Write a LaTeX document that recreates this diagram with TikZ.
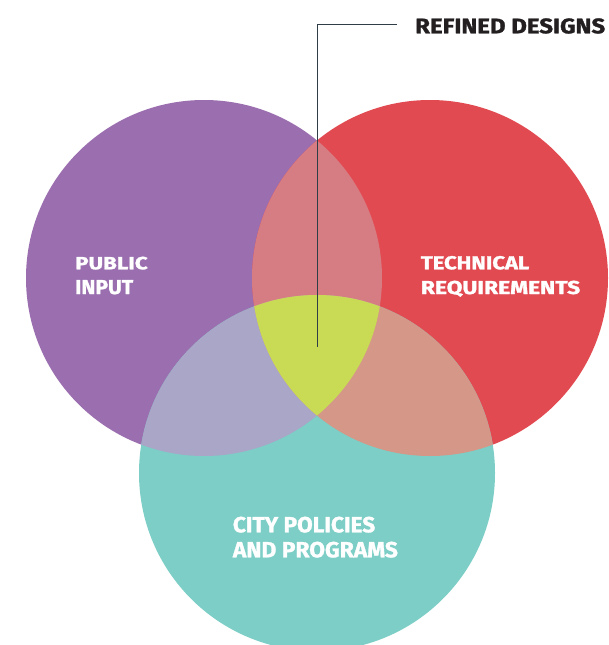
\documentclass[tikz,border=0pt]{standalone}
\usepackage{fontspec}
\setmainfont{Fira Sans}[BoldFeatures={FakeBold=1.3}]
\usepackage{graphicx}
\definecolor{cpurple}{HTML}{9A6EAF}
\definecolor{cred}{HTML}{E24A52}
\definecolor{cteal}{HTML}{7CCEC6}
\definecolor{cpink}{HTML}{D67D84}
\definecolor{clav}{HTML}{A9A6C7}
\definecolor{csalmon}{HTML}{D49788}
\definecolor{cyellow}{HTML}{C9DB55}
\definecolor{cline}{HTML}{2F3E46}
\definecolor{ctext}{HTML}{231F20}
\tikzset{
  setcircle/.style={circle,inner sep=0pt,minimum size=356pt,fill=#1},
  lbl/.style={anchor=base west,inner sep=0pt,text=white,font=\bfseries},
  reflbl/.style={anchor=base west,inner sep=0pt,text=ctext,font=\bfseries},
  leader/.style={draw=cline,line width=0.9pt}
}
\newcommand{\fitline}[3]{\resizebox{#1pt}{#2pt}{#3}}
\begin{document}
\begin{tikzpicture}[x=1pt,y=-1pt]
\useasboundingbox (0,0) rectangle (608,645);
\begin{scope}
\clip (0,0) rectangle (608,645);
\node[setcircle=cpurple] (L) at (204,278) {};
\node[setcircle=cred] (R) at (430,278) {};
\node[setcircle=cteal] (B) at (317,473) {};
\begin{scope}
  \clip (204,278) circle[radius=178pt];
  \fill[cpink] (430,278) circle[radius=178pt];
  \fill[clav] (317,473) circle[radius=178pt];
\end{scope}
\begin{scope}
  \clip (430,278) circle[radius=178pt];
  \fill[csalmon] (317,473) circle[radius=178pt];
\end{scope}
\begin{scope}
  \clip (204,278) circle[radius=178pt];
  \clip (430,278) circle[radius=178pt];
  \fill[cyellow] (317,473) circle[radius=178pt];
\end{scope}
\end{scope}
% labels
\node[lbl] (pub1) at (75,269.3) {\fitline{72.5}{12.6}{PUBLIC}};
\node[lbl] (pub2) at (75,294) {\fitline{58}{14}{INPUT}};
\node[lbl] (tec1) at (420.7,269.3) {\fitline{108.3}{13.3}{TECHNICAL}};
\node[lbl] (tec2) at (420.7,294) {\fitline{159.3}{13.3}{REQUIREMENTS}};
\node[lbl] (cit1) at (232.7,532.3) {\fitline{142.3}{15.6}{CITY POLICIES}};
\node[lbl] (cit2) at (232.7,557.3) {\fitline{165}{15.6}{AND PROGRAMS}};
\node[reflbl] (ref) at (415,33.3) {\fitline{190}{15}{REFINED DESIGNS}};
% leader
\coordinate (core) at (317,347);
\coordinate (bend) at (397,24);
\draw[leader] (core) |- (bend);
\end{tikzpicture}
\end{document}
